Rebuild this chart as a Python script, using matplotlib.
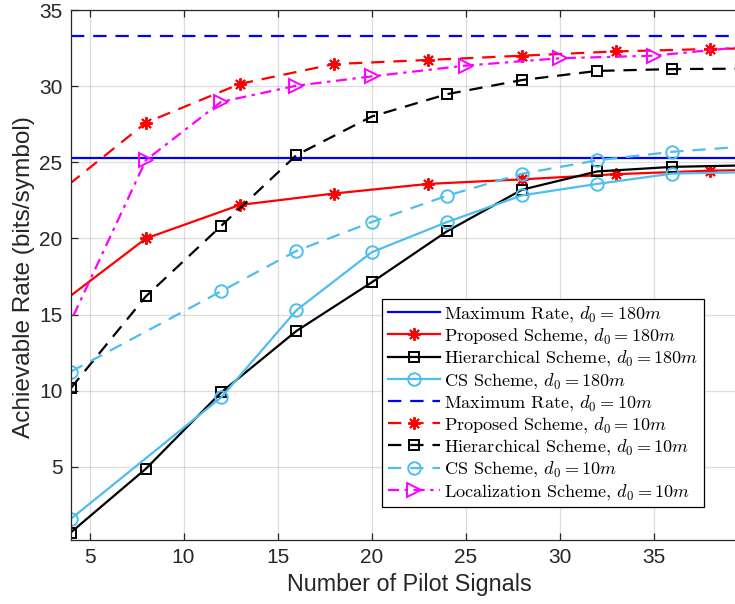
import matplotlib
matplotlib.use("Agg")
import matplotlib.pyplot as plt

# ---------------- data ----------------
max_rate_180 = 25.25
max_rate_10 = 33.3

x_prop = [3, 8, 13, 18, 23, 28, 33, 38, 43]
prop_180 = [15.3, 20.0, 22.2, 22.95, 23.58, 23.88, 24.22, 24.45, 24.55]
prop_10 = [22.65, 27.6, 30.15, 31.45, 31.72, 32.0, 32.28, 32.44, 32.55]

x_hier = [4, 8, 12, 16, 20, 24, 28, 32, 36, 40]
hier_180 = [0.69, 4.88, 9.89, 13.92, 17.11, 20.46, 23.2, 24.4, 24.7, 24.8]
hier_10 = [10.16, 16.2, 20.82, 25.47, 28.0, 29.47, 30.4, 31.0, 31.12, 31.15]

x_cs = [4, 12, 16, 20, 24, 28, 32, 36, 40]
cs_180 = [1.58, 9.56, 15.28, 19.09, 21.07, 22.83, 23.58, 24.26, 24.35]
cs_10 = [11.25, 16.53, 19.18, 21.07, 22.8, 24.25, 25.13, 25.69, 26.05]

x_loc = [3, 8, 12, 16, 20, 25, 30, 35, 40]
loc_10 = [11.9, 25.14, 28.97, 30.03, 30.64, 31.35, 31.83, 32.0, 32.6]

xlim = (4, 40)
ylim = (0.2, 35)
xticks = [5, 10, 15, 20, 25, 30, 35]
yticks = [5, 10, 15, 20, 25, 30, 35]

labels = [
    r"Maximum Rate, $d_0 = 180m$",
    r"Proposed Scheme, $d_0 = 180m$",
    r"Hierarchical Scheme, $d_0 = 180m$",
    r"CS Scheme, $d_0 = 180m$",
    r"Maximum Rate, $d_0 = 10m$",
    r"Proposed Scheme, $d_0 = 10m$",
    r"Hierarchical Scheme, $d_0 = 10m$",
    r"CS Scheme, $d_0 = 10m$",
    r"Localization Scheme, $d_0 = 10m$",
]

# ---------------- style ----------------
plt.rcParams['mathtext.fontset'] = 'cm'
BLUE = (0, 0, 1)
RED = (1, 0, 0)
BLACK = (0, 0, 0)
CYAN = (0.301, 0.745, 0.933)
MAG = (1, 0, 1)
lw = 1.6
dash = (0, (6, 4))
dashdot = (0, (5, 2.5, 1.5, 2.5))
STAR = (8, 2, 0)
mew = 1.4

fig = plt.figure(figsize=(7.35, 6.04), dpi=100)
ax = fig.add_axes([70.7 / 735, 64 / 604, 676.9 / 735, 530 / 604])

ax.axhline(max_rate_180, color=BLUE, lw=lw, ls='-', label=labels[0])
ax.plot(x_prop, prop_180, color=RED, lw=lw, ls='-', marker=STAR, ms=9,
        mfc=RED, mec=RED, mew=mew, label=labels[1])
ax.plot(x_hier, hier_180, color=BLACK, lw=lw, ls='-', marker='s', ms=7,
        mfc='none', mec=BLACK, mew=mew, label=labels[2])
ax.plot(x_cs, cs_180, color=CYAN, lw=lw, ls='-', marker='o', ms=9,
        mfc='none', mec=CYAN, mew=mew, label=labels[3])
ax.axhline(max_rate_10, color=BLUE, lw=lw, ls=dash, label=labels[4])
ax.plot(x_prop, prop_10, color=RED, lw=lw, ls=dash, marker=STAR, ms=9,
        mfc=RED, mec=RED, mew=mew, label=labels[5])
ax.plot(x_hier, hier_10, color=BLACK, lw=lw, ls=dash, marker='s', ms=7,
        mfc='none', mec=BLACK, mew=mew, label=labels[6])
ax.plot(x_cs, cs_10, color=CYAN, lw=lw, ls=dash, marker='o', ms=9,
        mfc='none', mec=CYAN, mew=mew, label=labels[7])
ax.plot(x_loc, loc_10, color=MAG, lw=lw, ls=dashdot, marker='>', ms=10,
        mfc='none', mec=MAG, mew=mew, label=labels[8])

ax.set_xlim(*xlim)
ax.set_ylim(*ylim)
ax.set_xticks(xticks)
ax.set_yticks(yticks)
ax.grid(True, color=(0.15, 0.15, 0.15), alpha=0.15, lw=0.9)
ax.set_axisbelow(True)
ax.tick_params(direction='in', top=True, right=True, length=5,
               labelsize=15, colors='#262626', width=0.9, pad=6)
for lab in ax.get_xticklabels() + ax.get_yticklabels():
    lab.set_fontfamily('Liberation Sans')
for s in ax.spines.values():
    s.set_color('#262626')
    s.set_linewidth(0.9)

ax.set_xlabel("Number of Pilot Signals", fontsize=16.8, family='Liberation Sans',
              color='#262626', labelpad=4)
ax.set_ylabel("Achievable Rate (bits/symbol)", fontsize=17.6, family='Liberation Sans',
              color='#262626')
ax.yaxis.set_label_coords(-0.053, 0.497)

leg = ax.legend(loc='lower left', bbox_to_anchor=(0.46, 0.0623), borderaxespad=0,
                prop={'family': 'cmr10', 'size': 13.1}, handlelength=2.9,
                handletextpad=0.2, labelspacing=0.125, borderpad=0.3,
                fancybox=False, framealpha=1, edgecolor='black', numpoints=1)
leg.get_frame().set_linewidth(0.9)

fig.savefig("out.png", dpi=100)
